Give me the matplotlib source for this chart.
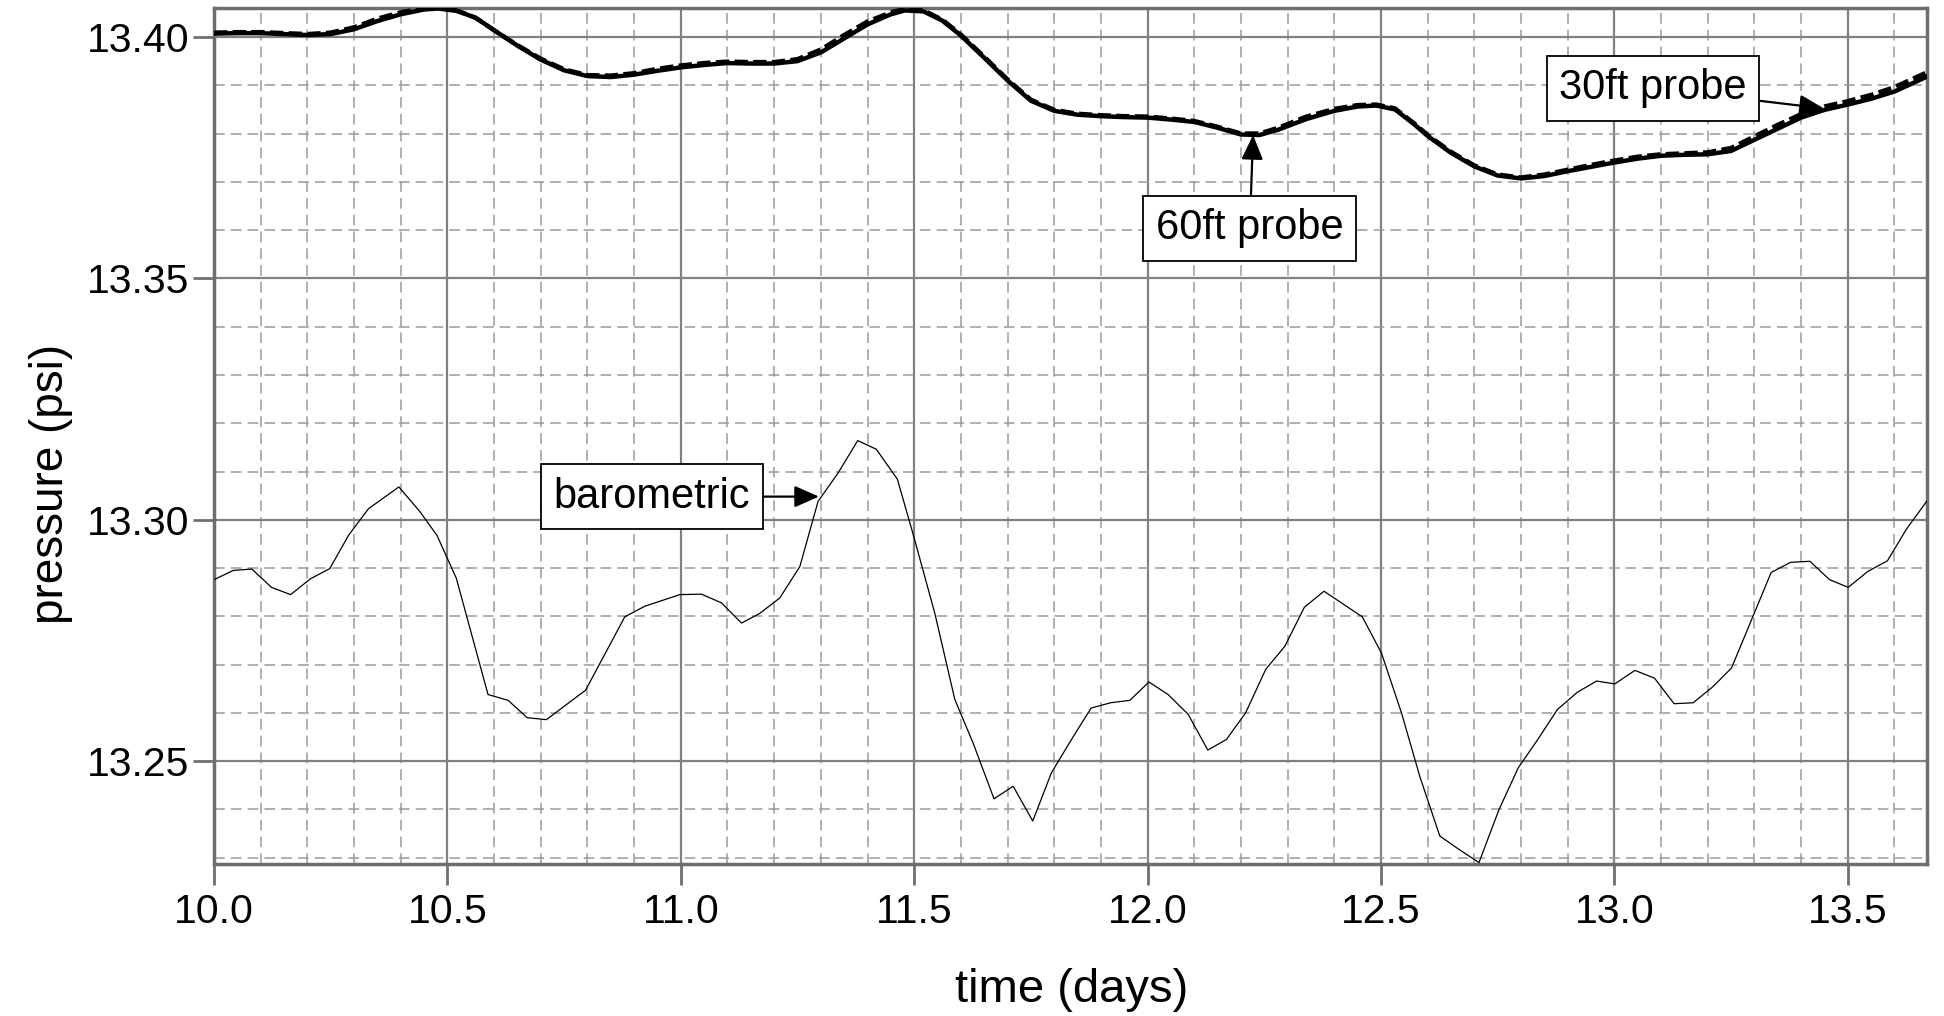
import numpy as np
import matplotlib
matplotlib.use('Agg')
from matplotlib import pyplot as plt
from matplotlib.ticker import MultipleLocator, FormatStrFormatter

plt.rcParams['font.family'] = ['Liberation Sans', 'DejaVu Sans']

# 60ft probe (solid) and 30ft probe (dashed)
probe_days = [10.00, 10.05, 10.10, 10.15, 10.20, 10.25, 10.30, 10.35, 10.40, 10.45,
              10.48, 10.52, 10.56, 10.60, 10.65, 10.70, 10.75, 10.80, 10.85, 10.90,
              10.95, 11.00, 11.05, 11.10, 11.15, 11.20, 11.25, 11.30, 11.35, 11.40,
              11.45, 11.48, 11.52, 11.56, 11.60, 11.65, 11.70, 11.75, 11.80, 11.85,
              11.90, 11.95, 12.00, 12.05, 12.10, 12.15, 12.20, 12.24, 12.28, 12.34,
              12.40, 12.45, 12.49, 12.53, 12.57, 12.60, 12.65, 12.70, 12.75, 12.80,
              12.85, 12.90, 12.95, 13.00, 13.05, 13.10, 13.15, 13.20, 13.25, 13.30,
              13.35, 13.40, 13.45, 13.50, 13.55, 13.60, 13.67]
probe60 = [13.4007, 13.4008, 13.4008, 13.4006, 13.4004, 13.4006, 13.4016, 13.4033, 13.4047, 13.4057,
           13.4059, 13.4054, 13.4040, 13.4014, 13.3982, 13.3953, 13.3931, 13.3919, 13.3917, 13.3922,
           13.3930, 13.3937, 13.3942, 13.3946, 13.3945, 13.3945, 13.3950, 13.3968, 13.3997, 13.4026,
           13.4047, 13.4055, 13.4053, 13.4034, 13.4003, 13.3957, 13.3910, 13.3868, 13.3847, 13.3839,
           13.3836, 13.3834, 13.3833, 13.3829, 13.3824, 13.3812, 13.3798, 13.3797, 13.3808, 13.3830,
           13.3847, 13.3856, 13.3858, 13.3850, 13.3820, 13.3795, 13.3760, 13.3732, 13.3713, 13.3707,
           13.3712, 13.3722, 13.3731, 13.3740, 13.3748, 13.3754, 13.3756, 13.3757, 13.3764, 13.3787,
           13.3810, 13.3833, 13.3849, 13.3860, 13.3872, 13.3887, 13.3918]
probe30 = [13.4009, 13.4010, 13.4010, 13.4008, 13.4006, 13.4009, 13.4020, 13.4038, 13.4051, 13.4060,
           13.4061, 13.4055, 13.4040, 13.4014, 13.3983, 13.3955, 13.3933, 13.3921, 13.3920, 13.3925,
           13.3934, 13.3941, 13.3946, 13.3949, 13.3948, 13.3948, 13.3954, 13.3974, 13.4004, 13.4032,
           13.4051, 13.4058, 13.4055, 13.4036, 13.4005, 13.3959, 13.3912, 13.3870, 13.3849, 13.3841,
           13.3838, 13.3836, 13.3835, 13.3831, 13.3826, 13.3814, 13.3800, 13.3800, 13.3812, 13.3835,
           13.3851, 13.3859, 13.3860, 13.3852, 13.3822, 13.3797, 13.3762, 13.3734, 13.3715, 13.3709,
           13.3715, 13.3725, 13.3735, 13.3744, 13.3752, 13.3757, 13.3759, 13.3761, 13.3770, 13.3794,
           13.3818, 13.3840, 13.3856, 13.3867, 13.3880, 13.3896, 13.3927]

# barometric pressure, roughly hourly
baro_days = [10.000, 10.041, 10.081, 10.123, 10.164, 10.207, 10.248, 10.289, 10.331, 10.396,
             10.441, 10.478, 10.519, 10.587, 10.630, 10.671, 10.712, 10.796, 10.880, 10.923,
             10.998, 11.044, 11.087, 11.130, 11.169, 11.212, 11.255, 11.294, 11.337, 11.379,
             11.419, 11.464, 11.498, 11.544, 11.587, 11.626, 11.671, 11.712, 11.754, 11.794,
             11.837, 11.879, 11.921, 11.962, 12.003, 12.044, 12.087, 12.129, 12.169, 12.210,
             12.253, 12.294, 12.336, 12.378, 12.460, 12.501, 12.544, 12.583, 12.626, 12.669,
             12.710, 12.753, 12.794, 12.836, 12.878, 12.921, 12.962, 13.001, 13.044, 13.086,
             13.128, 13.169, 13.212, 13.251, 13.294, 13.336, 13.378, 13.419, 13.461, 13.501,
             13.543, 13.585, 13.626, 13.669]
baro = [13.2876, 13.2895, 13.2898, 13.2860, 13.2845, 13.2878, 13.2899, 13.2969, 13.3023, 13.3068,
        13.3017, 13.2967, 13.2879, 13.2638, 13.2626, 13.2590, 13.2586, 13.2647, 13.2799, 13.2821,
        13.2845, 13.2846, 13.2828, 13.2786, 13.2806, 13.2838, 13.2903, 13.3038, 13.3097, 13.3164,
        13.3146, 13.3084, 13.2969, 13.2807, 13.2628, 13.2538, 13.2422, 13.2448, 13.2376, 13.2476,
        13.2545, 13.2610, 13.2621, 13.2626, 13.2664, 13.2638, 13.2597, 13.2523, 13.2545, 13.2600,
        13.2690, 13.2738, 13.2819, 13.2852, 13.2799, 13.2724, 13.2600, 13.2469, 13.2345, 13.2316,
        13.2290, 13.2400, 13.2486, 13.2545, 13.2607, 13.2643, 13.2666, 13.2660, 13.2688, 13.2672,
        13.2619, 13.2621, 13.2655, 13.2693, 13.2793, 13.2891, 13.2912, 13.2914, 13.2876, 13.2860,
        13.2893, 13.2915, 13.2981, 13.3038]

fig = plt.figure(figsize=(19.44, 10.16), dpi=100)
ax = fig.add_axes([0.1101, 0.1496, 0.8812, 0.8425])

ax.plot(probe_days, probe30, color='black', lw=3.2, ls=(0, (3, 1.2)), zorder=3)
ax.plot(probe_days, probe60, color='black', lw=3.2, zorder=4)
ax.plot(baro_days, baro, color='black', lw=0.9, zorder=3)

ax.set_xlim(10.0, 13.67)
ax.set_ylim(13.2287, 13.4060)

ax.xaxis.set_major_locator(MultipleLocator(0.5))
ax.xaxis.set_minor_locator(MultipleLocator(0.1))
ax.yaxis.set_major_locator(MultipleLocator(0.05))
ax.yaxis.set_minor_locator(MultipleLocator(0.01))
ax.xaxis.set_major_formatter(FormatStrFormatter('%.1f'))
ax.yaxis.set_major_formatter(FormatStrFormatter('%.2f'))

ax.set_axisbelow(True)
ax.grid(which='major', color='#808080', lw=1.6, ls='-')
ax.grid(which='minor', color='#9a9a9a', lw=1.1, ls=(0, (7, 4)))

ax.tick_params(which='major', direction='out', length=15, width=2, color='#707070',
               labelsize=29.5, pad=3)
ax.tick_params(axis='x', which='major', pad=6)
ax.tick_params(which='minor', length=0)
for s in ax.spines.values():
    s.set_color('#6e6e6e')
    s.set_linewidth(2.5)

fig.text(0.0262, 0.5236, 'pressure (psi)', rotation=90, ha='center', va='center', fontsize=33)
fig.text(0.5514, 0.0256, 'time (days)', ha='center', va='center', fontsize=34)

box = dict(boxstyle='square,pad=0.3', fc='white', ec='black', lw=1.3)
arrow = dict(arrowstyle='-|>,head_length=0.5,head_width=0.22', color='black', lw=1.6,
             shrinkA=0, shrinkB=0)
ax.annotate('60ft probe', xy=(12.226, 13.3797), xytext=(12.219, 13.3604),
            ha='center', va='center', fontsize=30, bbox=box, arrowprops=arrow, zorder=6)
ax.annotate('30ft probe', xy=(13.449, 13.3852), xytext=(13.083, 13.3894),
            ha='center', va='center', fontsize=30, bbox=box, arrowprops=arrow, zorder=6)
ax.annotate('barometric', xy=(11.296, 13.3048), xytext=(10.938, 13.3048),
            ha='center', va='center', fontsize=30, bbox=box, arrowprops=arrow, zorder=6)

plt.savefig('out.png', dpi=100)
